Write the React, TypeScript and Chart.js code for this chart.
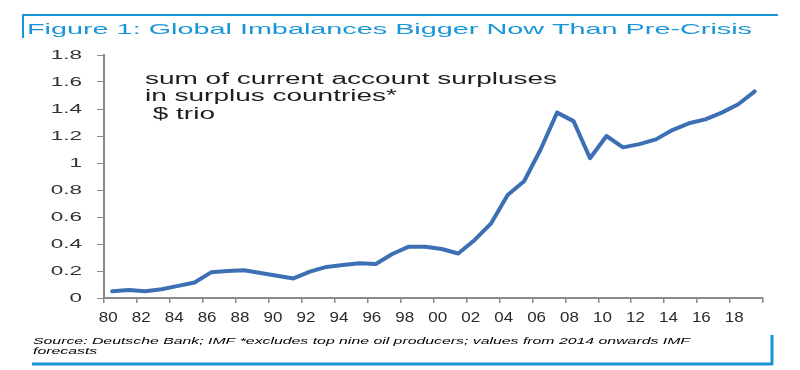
import { useEffect, useRef } from 'react';
import { Chart, registerables } from 'chart.js';
Chart.register(...registerables);

const years = ['80','81','82','83','84','85','86','87','88','89','90','91','92','93','94','95','96','97','98','99','00','01','02','03','04','05','06','07','08','09','10','11','12','13','14','15','16','17','18','19'];
const surplus = [0.05,0.06,0.05,0.065,0.09,0.115,0.19,0.2,0.205,0.185,0.165,0.145,0.195,0.23,0.245,0.257,0.252,0.326,0.38,0.38,0.363,0.33,0.43,0.553,0.763,0.865,1.1,1.373,1.31,1.035,1.2,1.116,1.14,1.175,1.244,1.294,1.323,1.373,1.435,1.53];
const yTickValues = [0,0.2,0.4,0.6,0.8,1,1.2,1.4,1.6,1.8];
const yTickLabels = ['0','0.2','0.4','0.6','0.8','1','1.2','1.4','1.6','1.8'];
const titleText = 'Figure 1: Global Imbalances Bigger Now Than Pre-Crisis';
const noteLines = ['sum of current account surpluses', 'in surplus countries*', ' $ trio'];
const sourceLines = ['Source: Deutsche Bank; IMF *excludes top nine oil producers; values from 2014 onwards IMF', 'forecasts'];

const BLUE = '#1a96d8';
const AXIS = '#8a8a8a';
const FONT = '"Liberation Sans", Arial, sans-serif';

function drawStretched(ctx: CanvasRenderingContext2D, text: string, x: number, y: number, font: string, color: string, sx: number, align: CanvasTextAlign = 'left', baseline: CanvasTextBaseline = 'alphabetic') {
  ctx.save();
  ctx.font = font;
  ctx.fillStyle = color;
  ctx.textAlign = align;
  ctx.textBaseline = baseline;
  ctx.translate(x, y);
  ctx.scale(sx, 1);
  ctx.fillText(text, 0, 0);
  ctx.restore();
}

function fitScale(ctx: CanvasRenderingContext2D, text: string, font: string, width: number) {
  ctx.save();
  ctx.font = font;
  const w = ctx.measureText(text).width;
  ctx.restore();
  return width / w;
}

const decorPlugin = {
  id: 'decor',
  afterDraw(chart: any) {
    const ctx: CanvasRenderingContext2D = chart.ctx;
    // frame
    ctx.save();
    ctx.strokeStyle = BLUE;
    ctx.lineWidth = 2;
    ctx.beginPath();
    ctx.moveTo(22, 15); ctx.lineTo(778, 15);
    ctx.moveTo(23, 14); ctx.lineTo(23, 38);
    ctx.stroke();
    ctx.lineWidth = 3;
    ctx.beginPath();
    ctx.moveTo(32, 364); ctx.lineTo(773, 364);
    ctx.moveTo(772, 335); ctx.lineTo(772, 365);
    ctx.stroke();
    ctx.restore();

    // title
    const tFont = `15px ${FONT}`;
    const tsx = fitScale(ctx, titleText, tFont, 725);
    drawStretched(ctx, titleText, 27, 33.5, tFont, BLUE, tsx);

    // annotation
    const nFont = `16px ${FONT}`;
    const nsx = fitScale(ctx, noteLines[0], nFont, 412);
    const nBase = [83.5, 101, 119];
    noteLines.forEach((l, i) => drawStretched(ctx, l, 145, nBase[i], nFont, '#1e1e1e', nsx));

    // source
    const sFont = `italic 9.5px ${FONT}`;
    const ssx = fitScale(ctx, sourceLines[0], sFont, 657);
    const sBase = [343.5, 353.5];
    sourceLines.forEach((l, i) => drawStretched(ctx, l, 33, sBase[i], sFont, '#000', ssx));

    // y tick labels
    const ys = chart.scales.y;
    yTickValues.forEach((v, i) => {
      const py = ys.getPixelForValue(v);
      drawStretched(ctx, yTickLabels[i], 82, py + 0.5, `12.5px ${FONT}`, '#333', 1.8, 'right', 'middle');
    });

    // x tick labels (every other year)
    const xs = chart.scales.x;
    years.forEach((lab, i) => {
      if (i % 2 !== 0) return;
      const px = xs.getPixelForValue(i) - 4;
      drawStretched(ctx, lab, px, 321.5, `14.5px ${FONT}`, '#2a2a2a', 1.17, 'center', 'alphabetic');
    });
  },
};

export default function App() {
  const ref = useRef<HTMLCanvasElement>(null);
  useEffect(() => {
    document.body.style.margin = '0';
    const chart = new Chart(ref.current!, {
      type: 'line',
      data: {
        labels: years,
        datasets: [{
          data: surplus,
          borderColor: '#3d6fb4',
          borderWidth: 4,
          pointRadius: 0,
          tension: 0,
          borderCapStyle: 'round',
          borderJoinStyle: 'round',
          fill: false,
        }],
      },
      options: {
        responsive: false,
        animation: false,
        devicePixelRatio: 1,
        layout: { padding: { top: 55, right: 37, left: 0, bottom: 0 } },
        plugins: { legend: { display: false }, tooltip: { enabled: false }, title: { display: false } },
        scales: {
          x: {
            type: 'category',
            offset: true,
            afterFit: (s: any) => { s.height = 72; },
            grid: {
              offset: true,
              drawOnChartArea: false,
              drawTicks: true,
              tickLength: 5,
              lineWidth: 1.5,
              tickColor: (c: any) => ((c.index ?? 0) % 2 === 0 ? AXIS : 'rgba(0,0,0,0)'),
            },
            border: { display: true, color: AXIS, width: 2 },
            ticks: { display: false, autoSkip: false, maxRotation: 0, minRotation: 0 },
          },
          y: {
            min: 0,
            max: 1.8,
            afterFit: (s: any) => { s.width = 104; },
            grid: { drawOnChartArea: false, drawTicks: true, tickLength: 7, color: AXIS, lineWidth: 1 },
            border: { display: true, color: AXIS, width: 2 },
            ticks: { display: false, stepSize: 0.2 },
          },
        },
      },
      plugins: [decorPlugin],
    });
    return () => chart.destroy();
  }, []);
  return <canvas ref={ref} width={800} height={370} style={{ display: 'block', width: 800, height: 370 }} />;
}
